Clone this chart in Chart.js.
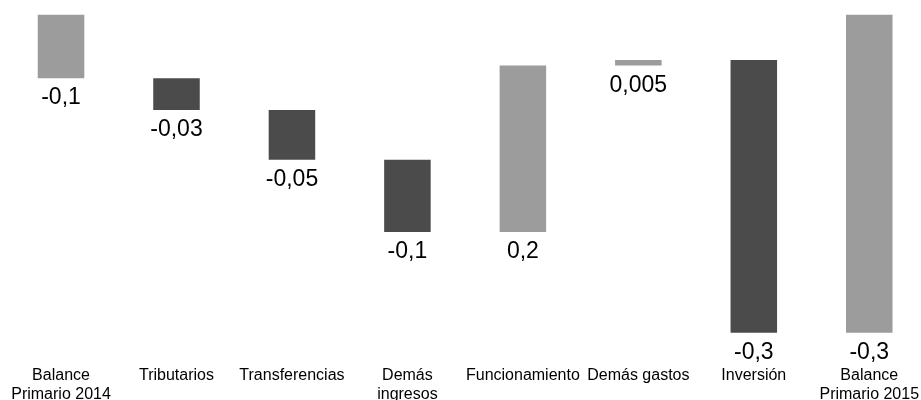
<!DOCTYPE html>
<html>
<head>
<meta charset="utf-8">
<script src="https://cdn.jsdelivr.net/npm/chart.js@4/dist/chart.umd.min.js"></script>
<style>
  html, body { margin: 0; padding: 0; background: #ffffff; overflow: hidden; }
  #wrap { position: absolute; left: 0; top: 0; width: 927px; height: 406px; }
</style>
</head>
<body>
<div id="wrap"><canvas id="chart" width="927" height="406"></canvas></div>
<script>
// Categories of the primary-balance bridge, 2014 -> 2015
const categories = [
  ['Balance', 'Primario 2014'],
  'Tributarios',
  'Transferencias',
  ['Demás', 'ingresos'],
  'Funcionamiento',
  'Demás gastos',
  'Inversión',
  ['Balance', 'Primario 2015']
];

// Starting balance, contributions of each component, final balance
const values = [-0.060, -0.030, -0.047, -0.068, 0.157, 0.005, -0.257, -0.300];

// Which entries are balances (drawn from zero) rather than changes
const isTotal = [true, false, false, false, false, false, false, true];

// Decimal places shown in each value label
const decimals = [1, 2, 2, 1, 1, 3, 1, 1];

const LIGHT = '#9c9c9c';
const DARK = '#4b4b4b';
const FONT = '"Liberation Sans", Arial, Helvetica, sans-serif';

// Floating bars: balances from zero, changes from the running total
let running = 0;
const ranges = values.map((v, i) => {
  if (isTotal[i]) { running = v; return [0, v]; }
  const start = running;
  running = running + v;
  return [start, running];
});
const colors = values.map((v, i) => (isTotal[i] || v > 0) ? LIGHT : DARK);

function fmt(v, d) {
  return v.toFixed(d).replace('.', ',');
}

// Value labels written under each column
const valueLabels = {
  id: 'valueLabels',
  afterDatasetsDraw(chart) {
    const ctx = chart.ctx;
    const meta = chart.getDatasetMeta(0);
    ctx.save();
    ctx.font = '23px ' + FONT;
    ctx.fillStyle = '#000000';
    ctx.textAlign = 'center';
    ctx.textBaseline = 'middle';
    meta.data.forEach((bar, i) => {
      const bottom = Math.max(bar.y, bar.base);
      ctx.fillText(fmt(values[i], decimals[i]), bar.x, bottom + 20);
    });
    ctx.restore();
  }
};

new Chart(document.getElementById('chart'), {
  type: 'bar',
  data: {
    labels: categories,
    datasets: [{
      data: ranges,
      backgroundColor: colors,
      borderWidth: 0,
      categoryPercentage: 1,
      barPercentage: 0.403
    }]
  },
  options: {
    responsive: false,
    animation: false,
    devicePixelRatio: 1,
    layout: { padding: { left: 3.3, right: 0, top: 14.5, bottom: 0 } },
    plugins: {
      legend: { display: false },
      tooltip: { enabled: false },
      title: { display: false }
    },
    scales: {
      x: {
        grid: { display: false, drawTicks: false },
        border: { display: false },
        ticks: {
          color: '#000000',
          font: { family: FONT, size: 16, lineHeight: 1.17 },
          padding: 2,
          maxRotation: 0,
          autoSkip: false
        }
      },
      y: {
        display: false,
        min: -0.33,
        max: 0
      }
    }
  },
  plugins: [valueLabels]
});
</script>
</body>
</html>
